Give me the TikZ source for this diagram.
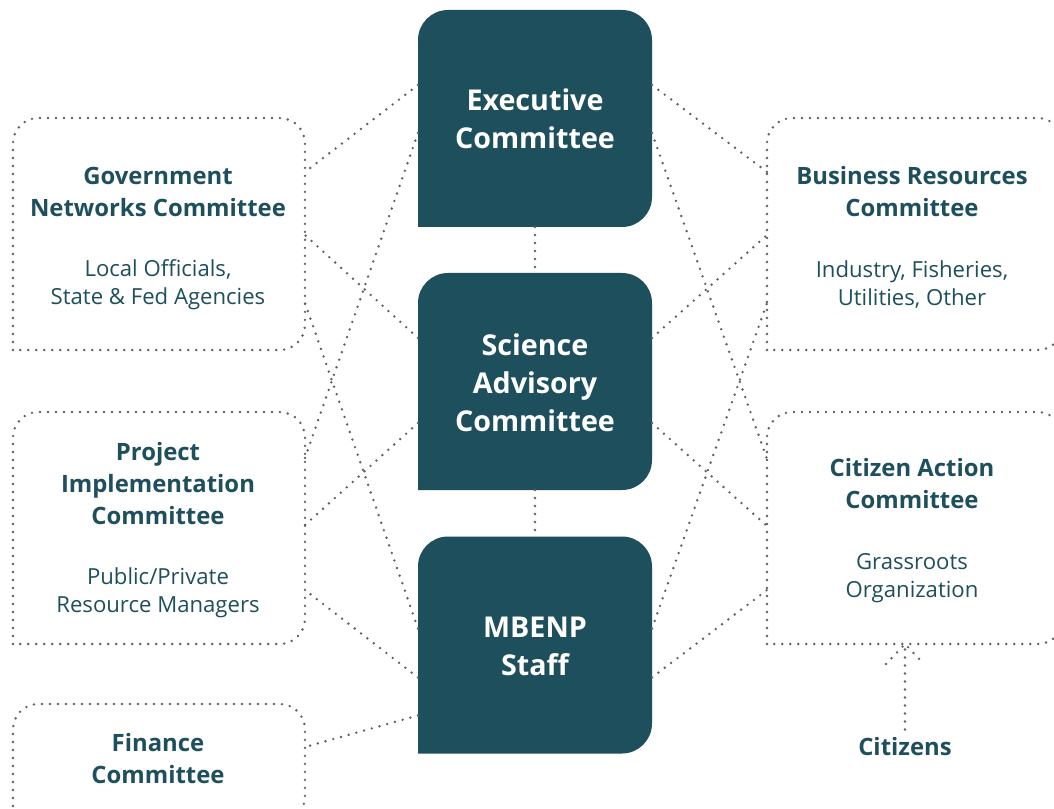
\documentclass[tikz,border=0pt]{standalone}
\usepackage{fontspec}
\setmainfont{Open Sans}
\usetikzlibrary{calc}
\definecolor{boxteal}{HTML}{1E4F5C}
\definecolor{dotgray}{HTML}{5E5E5E}
\newcommand\darkbox[1]{\fill[boxteal, rounded corners=22.5pt] (#1.south west) -- (#1.north west) -- (#1.north east) -- (#1.south east) -- (#1.south west);}
\newcommand\dotbox[1]{\draw[conn, rounded corners=19pt] (#1.south west) -- (#1.north west) -- (#1.north east) -- (#1.south east) -- (#1.south west);}
\begin{document}
\begin{tikzpicture}[x=0.75pt,y=-0.75pt,
  cbox/.style={inner sep=0pt, outer sep=0pt, minimum width=175.5pt, minimum height=162.75pt},
  lbox/.style={inner sep=0pt, outer sep=0pt, minimum width=219pt, minimum height=174pt},
  rbox/.style={inner sep=0pt, outer sep=0pt, minimum width=222pt, minimum height=174pt},
  fbox/.style={inner sep=0pt, outer sep=0pt, minimum width=219pt, minimum height=88.5pt},
  conn/.style={draw=dotgray, line width=2pt, line cap=round, dash pattern=on 0pt off 6pt},
  ctext/.style={text=white, font=\fontsize{21.5}{28.5}\selectfont\bfseries, align=center, inner sep=0pt},
  ttext/.style={text=boxteal, font=\fontsize{17.9}{24}\selectfont\bfseries, align=center, inner sep=0pt},
  stext/.style={text=boxteal, font=\fontsize{16.6}{21}\selectfont, align=center, inner sep=0pt}]
\clip (0,0) rectangle (1054,809);
\fill[white] (0,0) rectangle (1054,809);

% box frames
\node[cbox] (exec) at (535,118.5) {};
\node[cbox] (sci) at (535,381.5) {};
\node[cbox] (staff) at (535,645) {};
\node[lbox] (gov) at (159,234) {};
\node[rbox] (bus) at (915,234) {};
\node[lbox] (proj) at (159,528) {};
\node[rbox] (cit) at (915,528) {};
\node[fbox] (fin) at (159,763) {};

\darkbox{exec}
\darkbox{sci}
\darkbox{staff}
\dotbox{gov}
\dotbox{bus}
\dotbox{proj}
\dotbox{cit}
\dotbox{fin}

% texts
\node[ctext] (execT) at (535,119) {Executive\\Committee};
\node[ctext] (sciT) at (535,383) {Science\\Advisory\\Committee};
\node[ctext] (staffT) at (535,646.5) {MBENP\\Staff};
\node[ttext] (govT) at (158,192) {Government\\Networks Committee};
\node[stext] (govS) at (158,285) {Local Officials,\\State \& Fed Agencies};
\node[ttext] (busT) at (912,192) {Business Resources\\Committee};
\node[stext] (busS) at (912,285) {Industry, Fisheries,\\Utilities, Other};
\node[ttext] (projT) at (158,484) {Project\\Implementation\\Committee};
\node[stext] (projS) at (158,593) {Public/Private\\Resource Managers};
\node[ttext] (citT) at (912,484) {Citizen Action\\Committee};
\node[stext] (citS) at (912,578) {Grassroots\\Organization};
\node[ttext] (finT) at (158,759) {Finance\\Committee};
\node[ttext] (citizens) at (905,747) {Citizens};

% attachment points
\coordinate (eL1) at ($(exec.north west)+(0,75)$);
\coordinate (eL2) at ($(exec.north west)+(0,123)$);
\coordinate (sL1) at ($(sci.north west)+(0,65)$);
\coordinate (sL2) at ($(sci.north west)+(0,150)$);
\coordinate (mL1) at ($(staff.north west)+(0,92)$);
\coordinate (mL2) at ($(staff.north west)+(0,141)$);
\coordinate (mL3) at ($(staff.north west)+(0,179)$);
\coordinate (eR1) at ($(exec.north east)+(0,75)$);
\coordinate (eR2) at ($(exec.north east)+(0,123)$);
\coordinate (sR1) at ($(sci.north east)+(0,65)$);
\coordinate (sR2) at ($(sci.north east)+(0,150)$);
\coordinate (mR1) at ($(staff.north east)+(0,92)$);
\coordinate (mR2) at ($(staff.north east)+(0,141)$);
\coordinate (g1) at ($(gov.north east)+(0,54)$);
\coordinate (g2) at ($(gov.north east)+(0,117)$);
\coordinate (g3) at ($(gov.north east)+(0,185)$);
\coordinate (p1) at ($(proj.north east)+(0,46)$);
\coordinate (p2) at ($(proj.north east)+(0,113)$);
\coordinate (p3) at ($(proj.north east)+(0,178)$);
\coordinate (f1) at ($(fin.north east)+(0,43)$);
\coordinate (b1) at ($(bus.north west)+(0,54)$);
\coordinate (b2) at ($(bus.north west)+(0,117)$);
\coordinate (b3) at ($(bus.north west)+(0,185)$);
\coordinate (c1) at ($(cit.north west)+(0,47)$);
\coordinate (c2) at ($(cit.north west)+(0,114)$);
\coordinate (c3) at ($(cit.north west)+(0,178)$);
\coordinate (tip) at (citizens.north |- cit.south);

% connectors
\draw[conn] (eL1) -- (g1);
\draw[conn] (eL2) -- (p1);
\draw[conn] (sL1) -- (g2);
\draw[conn] (sL2) -- (p2);
\draw[conn] (mL1) -- (g3);
\draw[conn] (mL2) -- (p3);
\draw[conn] (mL3) -- (f1);
\draw[conn] (eR1) -- (b1);
\draw[conn] (eR2) -- (c1);
\draw[conn] (sR1) -- (b2);
\draw[conn] (sR2) -- (c2);
\draw[conn] (mR1) -- (b3);
\draw[conn] (mR2) -- (c3);
\draw[conn] (exec.south) -- (sci.north);
\draw[conn] (sci.south) -- (staff.north);
\draw[conn, shorten <=6pt] (citizens.north) -- (tip);
\draw[conn] ($(tip)+(-19,20)$) -- (tip) -- ($(tip)+(19,20)$);
\end{tikzpicture}
\end{document}
